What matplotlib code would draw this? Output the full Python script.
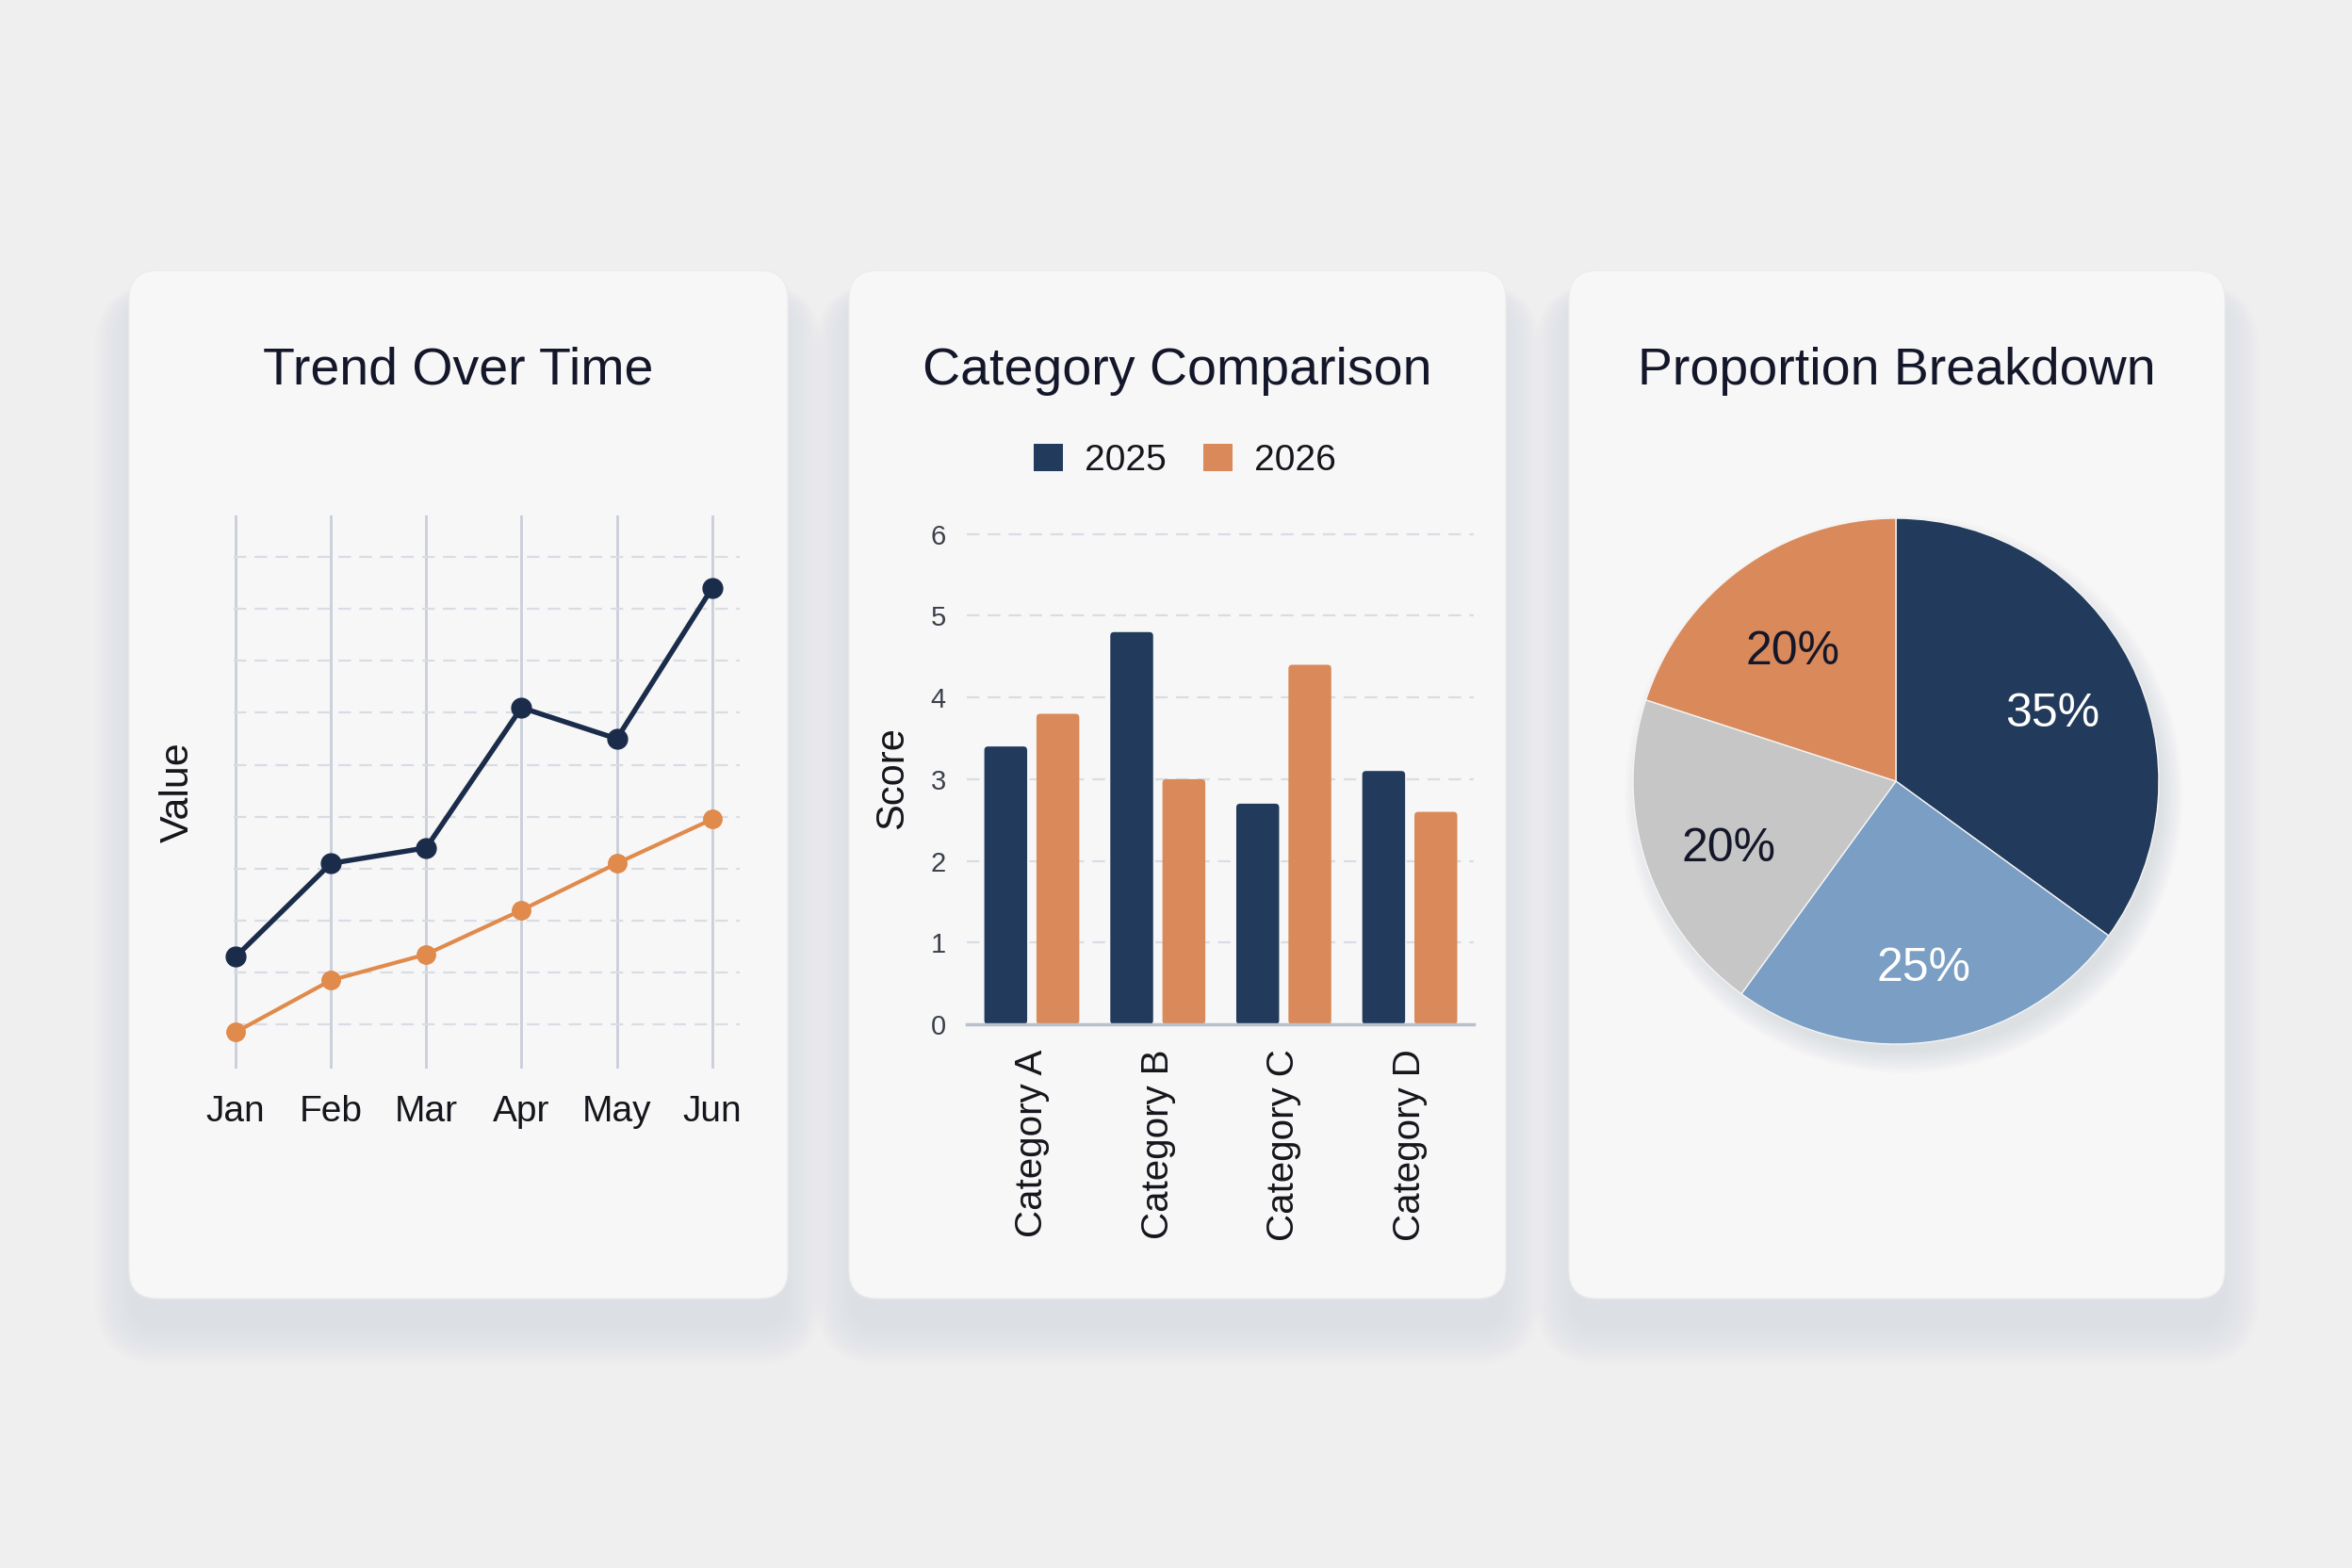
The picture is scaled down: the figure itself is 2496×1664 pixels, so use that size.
import matplotlib
matplotlib.use("Agg")
import matplotlib.pyplot as plt
from matplotlib.patches import FancyBboxPatch, Patch, Circle

W, H = 2496, 1664

# line panel
months = ["Jan", "Feb", "Mar", "Apr", "May", "Jun"]
trend_a = [23, 41, 44, 71, 65, 94]
trend_b = [8.5, 18.5, 23.5, 32, 41, 49.5]

# bar panel
categories = ["Category A", "Category B", "Category C", "Category D"]
series_labels = ["2025", "2026"]
score_2025 = [3.4, 4.8, 2.7, 3.1]
score_2026 = [3.8, 3.0, 4.4, 2.6]

# pie panel
pie_shares = [35, 25, 20, 20]

NAVY = "#223a5b"
NAVY_LINE = "#1b2c4a"
ORANGE = "#d9895a"
ORANGE_LINE = "#e08a4c"
LIGHTBLUE = "#7a9ec4"
GRAY = "#c6c6c6"
INK = "#14172a"
BG = "#efefef"
CARD = "#f7f7f7"

plt.rcParams["font.family"] = ["Liberation Sans", "DejaVu Sans"]


def px_rect(x0, y0, x1, y1):
    """pixel box (top-left origin) -> figure fraction rect"""
    return [x0 / W, 1 - y1 / H, (x1 - x0) / W, (y1 - y0) / H]


fig = plt.figure(figsize=(W / 100, H / 100), dpi=100, facecolor=BG)

# background layer in pixel coordinates: cards, shadows, titles
bg = fig.add_axes([0, 0, 1, 1])
bg.set_xlim(0, W); bg.set_ylim(H, 0); bg.axis("off")
bg.set_facecolor(BG)

cards = [(137, 287, 836, 1378), (901, 287, 1598, 1378), (1665, 287, 2361, 1378)]
titles = ["Trend Over Time", "Category Comparison", "Proportion Breakdown"]

for (x0, y0, x1, y1), title in zip(cards, titles):
    # soft drop shadow, mostly below the card
    for i in range(12):
        grow = 2 + i * 3.5
        bg.add_patch(FancyBboxPatch((x0 - grow + 4, y0 + 30 - grow * 0.4), x1 - x0 + 2 * grow - 8,
                                    y1 - y0 + grow * 1.4,
                                    boxstyle=f"round,pad=0,rounding_size={30 + grow}",
                                    fc="#8d939c", ec="none", alpha=0.011, zorder=1))
    bg.add_patch(FancyBboxPatch((x0, y0), x1 - x0, y1 - y0,
                                boxstyle="round,pad=0,rounding_size=30",
                                fc=CARD, ec="#ececec", lw=1, zorder=2))
    bg.text((x0 + x1) / 2, 408, title, ha="center", va="baseline",
            fontsize=40, color=INK, zorder=3)

# ---- line chart
ax1 = fig.add_axes(px_rect(250 - 0.02 * 101.2, 547, 785, 1134))
ax1.patch.set_visible(False)
xs = list(range(len(months)))
ax1.plot(xs, trend_a, color=NAVY_LINE, lw=3.9, marker="o", ms=15, clip_on=False, zorder=4)
ax1.plot(xs, trend_b, color=ORANGE_LINE, lw=3.0, marker="o", ms=14, clip_on=False, zorder=3)
ax1.set_xlim(-0.02, 5.29)
ax1.set_ylim(1.5, 108)
ax1.set_xticks(xs, months)
ax1.set_yticks(range(10, 101, 10))
ax1.tick_params(axis="y", length=0, labelleft=False)
ax1.tick_params(axis="x", length=0, pad=20, labelsize=28, labelcolor="#15161c")
ax1.xaxis.grid(True, color="#c9ced9", lw=2.0)
ax1.yaxis.grid(True, color="#d9dce4", lw=1.6, ls=(0, (6, 4)))
ax1.set_axisbelow(True)
for s in ax1.spines.values():
    s.set_visible(False)
ax1.set_ylabel("Value", fontsize=31, color="#15161c", va="center")
ax1.yaxis.set_label_coords(-0.11, 0.5)

# ---- bar chart
ax2 = fig.add_axes(px_rect(1026, 565, 1564, 1087))
ax2.patch.set_visible(False)
cx = list(range(len(categories)))
bw = 0.34
for xs_, vals, col in (([c - 0.207 for c in cx], score_2025, NAVY),
                       ([c + 0.207 for c in cx], score_2026, ORANGE)):
    bars = ax2.bar(xs_, vals, width=bw, color=col, zorder=3)
    # swap each rectangle for a slightly rounded one
    for b in bars:
        x, y = b.get_xy()
        ax2.add_patch(FancyBboxPatch((x, y), b.get_width(), b.get_height(),
                                     boxstyle="round,pad=0,rounding_size=0.03",
                                     mutation_aspect=6.02 / 4.02 * 538 / 522,
                                     fc=col, ec="none", zorder=3))
        b.set_visible(False)
ax2.set_xlim(-0.516, 3.508)
ax2.set_ylim(0, 6.02)
ax2.set_yticks(range(0, 7))
ax2.set_xticks(cx, categories, rotation=90)
ax2.tick_params(axis="y", length=0, pad=16, labelsize=21, labelcolor="#3b404c")
ax2.tick_params(axis="x", length=0, pad=19, labelsize=29, labelcolor="#15161c")
ax2.yaxis.grid(True, color="#d9dce4", lw=1.6, ls=(0, (6, 4)))
ax2.set_axisbelow(True)
for k in ("top", "right", "left"):
    ax2.spines[k].set_visible(False)
ax2.spines["bottom"].set_color("#b9c0cc")
ax2.spines["bottom"].set_linewidth(2.5)
ax2.spines["bottom"].set_zorder(4)
ax2.set_ylabel("Score", fontsize=30, color="#15161c", va="center")
ax2.yaxis.set_label_coords(-0.147, 0.5)
ax2.legend(handles=[Patch(fc=NAVY), Patch(fc=ORANGE)], labels=series_labels, ncol=2,
           loc="center", bbox_to_anchor=(0.43, 1.146), frameon=False, fontsize=28,
           handlelength=0.8, handleheight=0.8, handletextpad=0.6, columnspacing=1.0,
           labelcolor="#15161c")

# ---- pie chart
r = 279
ax3 = fig.add_axes(px_rect(2012 - r, 829 - r, 2012 + r, 829 + r))
ax3.patch.set_visible(False)
for i in range(10):
    ax3.add_patch(Circle((0.03, -0.05), 0.98 + i * 0.009, fc="#80889a", ec="none",
                         alpha=0.018, zorder=0, clip_on=False))
wedges, _, autotexts = ax3.pie(pie_shares, colors=[NAVY, LIGHTBLUE, GRAY, ORANGE],
                               startangle=90, counterclock=False, autopct="%.0f%%",
                               pctdistance=0.67, radius=1.0,
                               wedgeprops=dict(ec="#f4f4f4", lw=1.0),
                               textprops=dict(fontsize=36))
for w in wedges:
    w.set_clip_on(False)
    w.set_zorder(2)
for t, c in zip(autotexts, ["white", "white", INK, INK]):
    t.set_color(c)
    t.set_zorder(3)
    tx, ty = t.get_position()
    t.set_position((tx, ty - 0.05))
ax3.set_xlim(-1, 1); ax3.set_ylim(-1, 1)
ax3.set_aspect("equal")
ax3.axis("off")

fig.savefig("out.png", dpi=100, facecolor=BG)
